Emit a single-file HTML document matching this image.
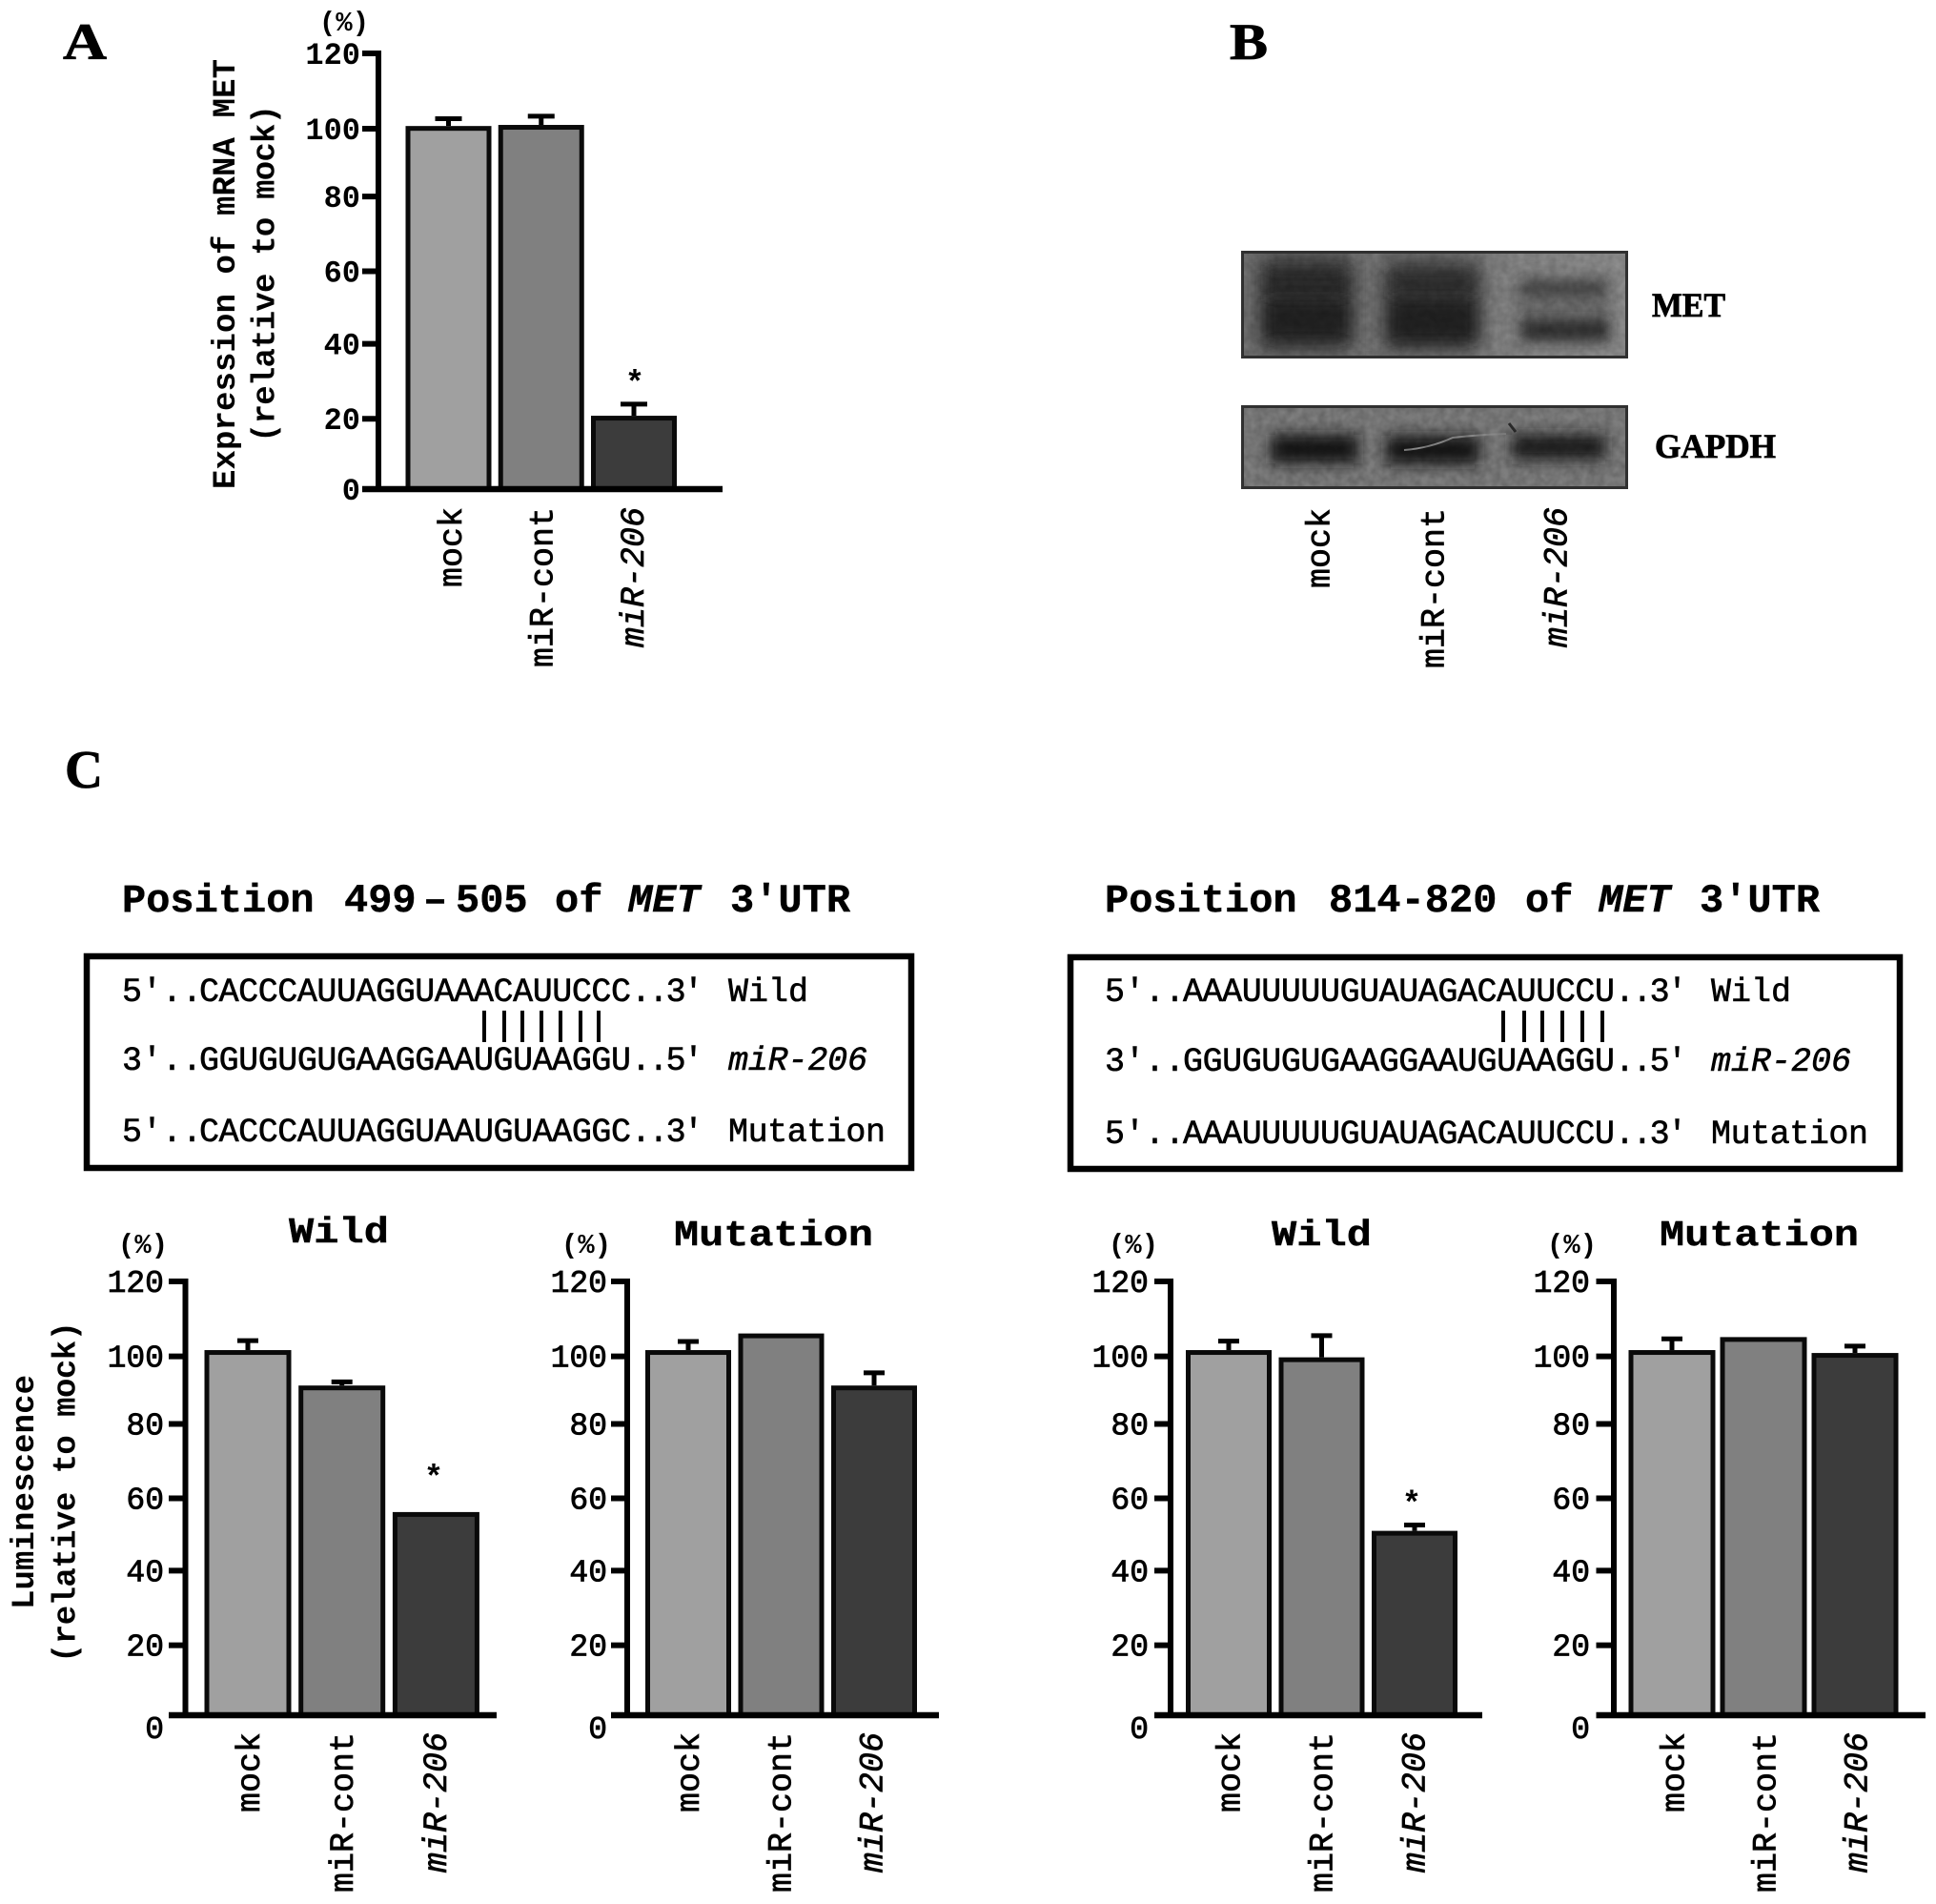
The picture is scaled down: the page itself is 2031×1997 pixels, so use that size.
<!DOCTYPE html>
<html lang="en">
<head>
<meta charset="utf-8">
<title>miR-206 and MET expression figure</title>
<style>
  html,body{margin:0;padding:0;background:#fff;}
  svg{display:block;}
  text{font-family:"Liberation Mono","DejaVu Sans Mono",monospace;fill:#000;}
  .b{font-weight:bold;}
  .i{font-style:italic;}
  .serif{font-family:"Liberation Serif",serif;font-weight:bold;stroke:#000;stroke-width:.8px;}
  .seq{font-size:35px;stroke:#000;stroke-width:.6px;}
  .ttl{font-size:42px;font-weight:bold;stroke:#000;stroke-width:.4px;}
  .ylab{font-size:34px;font-weight:bold;}
  .pct{font-size:29px;font-weight:bold;}
</style>
</head>
<body>
<svg id="fig" xmlns="http://www.w3.org/2000/svg" width="2031" height="1997" viewBox="0 0 2031 1997">
  <defs>
    <filter id="bl8" x="-40%" y="-60%" width="180%" height="220%"><feGaussianBlur stdDeviation="8"/></filter>
    <filter id="bl12" x="-40%" y="-60%" width="180%" height="220%"><feGaussianBlur stdDeviation="12"/></filter>
    <filter id="bl5" x="-40%" y="-80%" width="180%" height="260%"><feGaussianBlur stdDeviation="6"/></filter>
    <filter id="bl7" x="-40%" y="-100%" width="180%" height="300%"><feGaussianBlur stdDeviation="7.5"/></filter>
    <filter id="grain" x="0" y="0" width="100%" height="100%">
      <feTurbulence type="fractalNoise" baseFrequency="0.12" numOctaves="2" seed="4"/>
      <feColorMatrix values="0 0 0 0 0  0 0 0 0 0  0 0 0 0 0  0 0 0 .5 -.12"/>
    </filter>
    <clipPath id="clipMet"><rect x="1302" y="263" width="406" height="113"/></clipPath>
    <clipPath id="clipGapdh"><rect x="1302" y="425" width="406" height="88"/></clipPath>
    <linearGradient id="metBg" x1="0" x2="1" y1="0" y2="0">
      <stop offset="0" stop-color="#757575"/><stop offset=".45" stop-color="#7d7d7d"/><stop offset="1" stop-color="#8f8f8f"/>
    </linearGradient>
  </defs>
  <rect x="0" y="0" width="2031" height="1997" fill="#fff"/>

  <text x="66" y="62" font-size="54" class="serif" textLength="46" lengthAdjust="spacingAndGlyphs">A</text>
  <text x="1290" y="62" font-size="54" class="serif" textLength="40" lengthAdjust="spacingAndGlyphs">B</text>
  <text x="68" y="826" font-size="56" class="serif" textLength="40" lengthAdjust="spacingAndGlyphs">C</text>

  <!-- Panel A static text -->
  <text class="ylab" text-anchor="middle" textLength="451" transform="translate(246 287.5) rotate(-90)">Expression of mRNA MET</text>
  <text class="ylab" text-anchor="middle" textLength="354" transform="translate(287.5 287) rotate(-90)">(relative to mock)</text>
  <text class="pct" x="361" y="32" text-anchor="middle">(%)</text>

  <!-- Panel B blots -->
  <g clip-path="url(#clipMet)">
    <rect x="1302" y="263" width="406" height="113" fill="url(#metBg)"/>
    <rect x="1322" y="268" width="98" height="100" fill="#383838" filter="url(#bl12)"/>
    <rect x="1328" y="284" width="86" height="26" fill="#2a2a2a" filter="url(#bl7)"/>
    <rect x="1328" y="314" width="86" height="42" fill="#222" filter="url(#bl7)"/>
    <rect x="1452" y="272" width="100" height="96" fill="#3a3a3a" filter="url(#bl12)"/>
    <rect x="1458" y="288" width="90" height="18" fill="#2f2f2f" filter="url(#bl7)"/>
    <rect x="1458" y="314" width="90" height="44" fill="#242424" filter="url(#bl7)"/>
    <rect x="1592" y="290" width="98" height="72" fill="#6c6c6c" filter="url(#bl8)"/>
    <rect x="1596" y="296" width="88" height="13" fill="#454545" filter="url(#bl5)"/>
    <rect x="1597" y="336" width="90" height="20" fill="#333" filter="url(#bl5)"/>
    <rect x="1302" y="263" width="406" height="113" filter="url(#grain)" opacity=".5"/>
  </g>
  <rect x="1303.5" y="264.5" width="403" height="110" fill="none" stroke="#303030" stroke-width="3"/>
  <g clip-path="url(#clipGapdh)">
    <rect x="1302" y="425" width="406" height="88" fill="#7e7e7e"/>
    <rect x="1333" y="456" width="92" height="30" fill="#141414" filter="url(#bl7)"/>
    <rect x="1454" y="457" width="98" height="30" fill="#141414" filter="url(#bl7)"/>
    <rect x="1586" y="456" width="98" height="26" fill="#1c1c1c" filter="url(#bl7)"/>
    <path d="M1473 472 Q1500 470 1524 459 Q1550 456 1580 455" fill="none" stroke="#8c8c8c" stroke-width="2"/>
    <path d="M1583 444 L1590 453" stroke="#2a2a2a" stroke-width="3"/>
    <rect x="1302" y="425" width="406" height="88" filter="url(#grain)" opacity=".6"/>
  </g>
  <rect x="1303.5" y="426.5" width="403" height="85" fill="none" stroke="#303030" stroke-width="3"/>
  <text x="1733" y="332" font-size="36" class="serif" textLength="77" lengthAdjust="spacingAndGlyphs">MET</text>
  <text x="1736" y="480" font-size="36" class="serif" textLength="127" lengthAdjust="spacingAndGlyphs">GAPDH</text>
  <text font-size="35" text-anchor="end" transform="translate(1394.5 533) rotate(-90)" stroke="#000" stroke-width=".7">mock</text>
  <text font-size="35" text-anchor="end" transform="translate(1514.5 533) rotate(-90)" stroke="#000" stroke-width=".7">miR-cont</text>
  <text font-size="35" class="i" text-anchor="end" transform="translate(1643.5 532) rotate(-90)" stroke="#000" stroke-width=".7">miR-206</text>

  <!-- Panel C left title -->
  <g>
    <text class="ttl" x="128" y="956">Position</text>
    <text class="ttl" x="361" y="956">499</text>
    <text class="ttl" x="444" y="956">–</text>
    <text class="ttl" x="478" y="956">505</text>
    <text class="ttl" x="582" y="956">of</text>
    <text class="ttl i" x="659" y="956">MET</text>
    <text class="ttl" x="766" y="956">3′UTR</text>
  </g>
  <!-- Panel C right title -->
  <g>
    <text class="ttl" x="1159" y="956">Position</text>
    <text class="ttl" x="1394" y="956">814-820</text>
    <text class="ttl" x="1600" y="956">of</text>
    <text class="ttl i" x="1677" y="956">MET</text>
    <text class="ttl" x="1783" y="956">3′UTR</text>
  </g>

  <!-- Sequence box 1 -->
  <rect x="91" y="1003" width="865" height="222" fill="none" stroke="#000" stroke-width="6.5"/>
  <g>
    <text class="seq" x="128" y="1050">5′..</text>
    <text class="seq" x="209" y="1050" textLength="453">CACCCAUUAGGUAAACAUUCCC</text>
    <text class="seq" x="662" y="1050" textLength="76">..3′</text>
    <text class="seq" x="764" y="1050" textLength="84">Wild</text>
  </g>
  <g stroke="#000" stroke-width="4">
    <line x1="508" x2="508" y1="1060" y2="1093"/><line x1="529" x2="529" y1="1060" y2="1093"/><line x1="548" x2="548" y1="1060" y2="1093"/><line x1="568" x2="568" y1="1060" y2="1093"/><line x1="588" x2="588" y1="1060" y2="1093"/><line x1="609" x2="609" y1="1060" y2="1093"/><line x1="628" x2="628" y1="1060" y2="1093"/>
  </g>
  <g>
    <text class="seq" x="128" y="1122">3′..</text>
    <text class="seq" x="209" y="1122" textLength="453">GGUGUGUGAAGGAAUGUAAGGU</text>
    <text class="seq" x="662" y="1122" textLength="76">..5′</text>
    <text class="seq i" x="764" y="1122" textLength="146">miR-206</text>
  </g>
  <g>
    <text class="seq" x="128" y="1197">5′..</text>
    <text class="seq" x="209" y="1197" textLength="453">CACCCAUUAGGUAAUGUAAGGC</text>
    <text class="seq" x="662" y="1197" textLength="76">..3′</text>
    <text class="seq" x="764" y="1197" textLength="165">Mutation</text>
  </g>

  <!-- Sequence box 2 -->
  <rect x="1123" y="1004" width="870" height="222" fill="none" stroke="#000" stroke-width="6.5"/>
  <g>
    <text class="seq" x="1159" y="1050">5′..</text>
    <text class="seq" x="1241" y="1050" textLength="453">AAAUUUUUGUAUAGACAUUCCU</text>
    <text class="seq" x="1694" y="1050" textLength="76">..3′</text>
    <text class="seq" x="1795" y="1050" textLength="84">Wild</text>
  </g>
  <g stroke="#000" stroke-width="4">
    <line x1="1577" x2="1577" y1="1060" y2="1093"/><line x1="1599" x2="1599" y1="1060" y2="1093"/><line x1="1618" x2="1618" y1="1060" y2="1093"/><line x1="1639" x2="1639" y1="1060" y2="1093"/><line x1="1660" x2="1660" y1="1060" y2="1093"/><line x1="1681" x2="1681" y1="1060" y2="1093"/>
  </g>
  <g>
    <text class="seq" x="1159" y="1123">3′..</text>
    <text class="seq" x="1241" y="1123" textLength="453">GGUGUGUGAAGGAAUGUAAGGU</text>
    <text class="seq" x="1694" y="1123" textLength="76">..5′</text>
    <text class="seq i" x="1795" y="1123" textLength="147">miR-206</text>
  </g>
  <g>
    <text class="seq" x="1159" y="1199">5′..</text>
    <text class="seq" x="1241" y="1199" textLength="453">AAAUUUUUGUAUAGACAUUCCU</text>
    <text class="seq" x="1694" y="1199" textLength="76">..3′</text>
    <text class="seq" x="1795" y="1199" textLength="165">Mutation</text>
  </g>

  <!-- Panel C chart text -->
  <text x="303" y="1303" font-size="38" class="b" textLength="105" lengthAdjust="spacingAndGlyphs" stroke="#000" stroke-width=".4">Wild</text>
  <text x="707" y="1306" font-size="38" class="b" textLength="209" lengthAdjust="spacingAndGlyphs" stroke="#000" stroke-width=".4">Mutation</text>
  <text x="1334" y="1306" font-size="38" class="b" textLength="105" lengthAdjust="spacingAndGlyphs" stroke="#000" stroke-width=".4">Wild</text>
  <text x="1741" y="1306" font-size="38" class="b" textLength="209" lengthAdjust="spacingAndGlyphs" stroke="#000" stroke-width=".4">Mutation</text>
  <text class="pct" x="150" y="1314" text-anchor="middle">(%)</text>
  <text class="pct" x="615" y="1314" text-anchor="middle">(%)</text>
  <text class="pct" x="1189" y="1314" text-anchor="middle">(%)</text>
  <text class="pct" x="1649" y="1314" text-anchor="middle">(%)</text>
  <text class="ylab" text-anchor="middle" textLength="246" transform="translate(35 1565) rotate(-90)">Luminescence</text>
  <text class="ylab" text-anchor="middle" textLength="358" transform="translate(78.5 1565) rotate(-90)">(relative to mock)</text>

  <g id="charts"></g>
</svg>

<script>
// Chart data
const categories = ['mock', 'miR-cont', 'miR-206'];
const tickValues = [0, 20, 40, 60, 80, 100, 120];
const panelAValues = [100, 100.3, 20.2];
const panelAErrors = [2, 2.4, 3.2];
const wildLeftValues = [101, 91.2, 56.2];
const wildLeftErrors = [2.6, 1, 0];
const mutationLeftValues = [101, 105.6, 91.2];
const mutationLeftErrors = [2.4, 0, 3.5];
const wildRightValues = [101, 99, 51];
const wildRightErrors = [2.5, 6, 1.6];
const mutationRightValues = [101, 104.6, 100.2];
const mutationRightErrors = [3.1, 0, 1.9];
const barFills = ['#a0a0a0', '#808080', '#3c3c3c'];

// Small rendering offsets of the printed axis ticks (layout, not data)
const tickShift = {100: 2.8, 80: -2.2, 20: 2.4};

const SVG_NS = 'http://www.w3.org/2000/svg';
const chartsRoot = document.getElementById('charts');

function mk(parent, tag, attrs) {
  const el = document.createElementNS(SVG_NS, tag);
  for (const k in attrs) el.setAttribute(k, attrs[k]);
  parent.appendChild(el);
  return el;
}

function drawChart(cfg) {
  const yScale = v => cfg.y0 - v * (cfg.y0 - cfg.yMax) / 120;
  const xScale = i => cfg.first + i * cfg.step;
  const labelScale = i => cfg.labelFirst + i * cfg.labelStep;
  const g = mk(chartsRoot, 'g', {});
  
  

  // bars
  cfg.values.forEach((v, i) => {
    const cx = xScale(i);
    const top = yScale(v);
    const err = cfg.errors[i];
    if (err > 0) {
      const errTop = yScale(v + err);
      const stem = mk(g, 'line', {x1: cx, x2: cx, y1: top, y2: errTop, stroke: '#000', 'stroke-width': 5});
      
      
      const cap = mk(g, 'line', {x1: cx - cfg.capW / 2, x2: cx + cfg.capW / 2, y1: errTop, y2: errTop, stroke: '#000', 'stroke-width': 5});
      
      
    }
    const bar = mk(g, 'rect', {
      x: cx - cfg.barW / 2 + 2.5, y: top + 2.5,
      width: cfg.barW - 5, height: Math.max(0, cfg.y0 - top - 2.5),
      fill: barFills[i], stroke: '#0a0a0a', 'stroke-width': 5
    });
    
    

    const lab = mk(g, 'text', {
      'text-anchor': 'end', 'font-size': cfg.catSize, stroke: '#000', 'stroke-width': .7,
      transform: 'translate(' + (labelScale(i) + cfg.catSize * 0.33) + ' ' + cfg.labelTop + ') rotate(-90)'
    });
    if (i === 2) lab.setAttribute('font-style', 'italic');
    lab.textContent = categories[i];
    
    
  });

  // asterisk
  if (cfg.star !== undefined) {
    const i = cfg.star;
    const top = yScale(cfg.values[i] + cfg.errors[i]);
    const s = mk(g, 'text', {
      x: xScale(i) + cfg.starDx, y: top - cfg.starGap + 17,
      'text-anchor': 'middle', 'font-size': 34, 'font-weight': 'bold'
    });
    s.textContent = '*';
    
    
  }

  // axes
  const yAxis = mk(g, 'line', {x1: cfg.axisX, x2: cfg.axisX, y1: yScale(120) - 3, y2: cfg.y0 + 3, stroke: '#000', 'stroke-width': 6});
  
  
  const xAxis = mk(g, 'line', {x1: cfg.tickStart, x2: cfg.xEnd, y1: cfg.y0, y2: cfg.y0, stroke: '#000', 'stroke-width': 6.5});
  
  

  tickValues.forEach(t => {
    const y = yScale(t) + (tickShift[t] || 0);
    const tick = mk(g, 'line', {x1: cfg.tickStart, x2: cfg.axisX, y1: y, y2: y, stroke: '#000', 'stroke-width': 6});
    
    
    const offset = t === 0 ? cfg.zeroDy : 0;
    const lab = mk(g, 'text', {
      x: cfg.labelRight, y: y + offset + 11,
      'text-anchor': 'end', 'font-size': cfg.tickSize, 'font-weight': cfg.tickWeight,
      stroke: '#000', 'stroke-width': cfg.tickStroke
    });
    lab.textContent = t;
    
    
  });
}

drawChart({name: 'expression-chart', values: panelAValues, errors: panelAErrors,
  y0: 513, yMax: 56, axisX: 397, tickStart: 380, xEnd: 758, first: 470.5, step: 97.25, barW: 90,
  capW: 28, labelRight: 378, zeroDy: 0, catSize: 35, labelTop: 532, labelFirst: 472.5, labelStep: 95.5,
  tickWeight: 'bold', tickSize: 32, tickStroke: 0,
  star: 2, starDx: 1, starGap: 29});
drawChart({name: 'luminescence-wild-left', values: wildLeftValues, errors: wildLeftErrors,
  y0: 1799, yMax: 1344, axisX: 194.5, tickStart: 177, xEnd: 521, first: 260, step: 98.7, barW: 91,
  capW: 22, labelRight: 172, zeroDy: 13, catSize: 35, labelTop: 1817, labelFirst: 260.2, labelStep: 98.1,
  tickWeight: 'normal', tickSize: 33, tickStroke: .8,
  star: 2, starDx: -2.5, starGap: 43});
drawChart({name: 'luminescence-mutation-left', values: mutationLeftValues, errors: mutationLeftErrors,
  y0: 1799, yMax: 1344, axisX: 658, tickStart: 641, xEnd: 985, first: 722, step: 97.5, barW: 90,
  capW: 22, labelRight: 637, zeroDy: 13, catSize: 35, labelTop: 1817, labelFirst: 721.5, labelStep: 96.3,
  tickWeight: 'normal', tickSize: 33, tickStroke: .8});
drawChart({name: 'luminescence-wild-right', values: wildRightValues, errors: wildRightErrors,
  y0: 1799, yMax: 1344, axisX: 1228, tickStart: 1211, xEnd: 1555, first: 1289, step: 97.5, barW: 90,
  capW: 22, labelRight: 1205, zeroDy: 13, catSize: 35, labelTop: 1817, labelFirst: 1288.7, labelStep: 97,
  tickWeight: 'normal', tickSize: 33, tickStroke: .8,
  star: 2, starDx: -3, starGap: 29});
drawChart({name: 'luminescence-mutation-right', values: mutationRightValues, errors: mutationRightErrors,
  y0: 1799, yMax: 1344, axisX: 1693, tickStart: 1674.5, xEnd: 2020, first: 1754, step: 96, barW: 91,
  capW: 22, labelRight: 1668, zeroDy: 13, catSize: 35, labelTop: 1817, labelFirst: 1754.7, labelStep: 96,
  tickWeight: 'normal', tickSize: 33, tickStroke: .8});
</script>
</body>
</html>
